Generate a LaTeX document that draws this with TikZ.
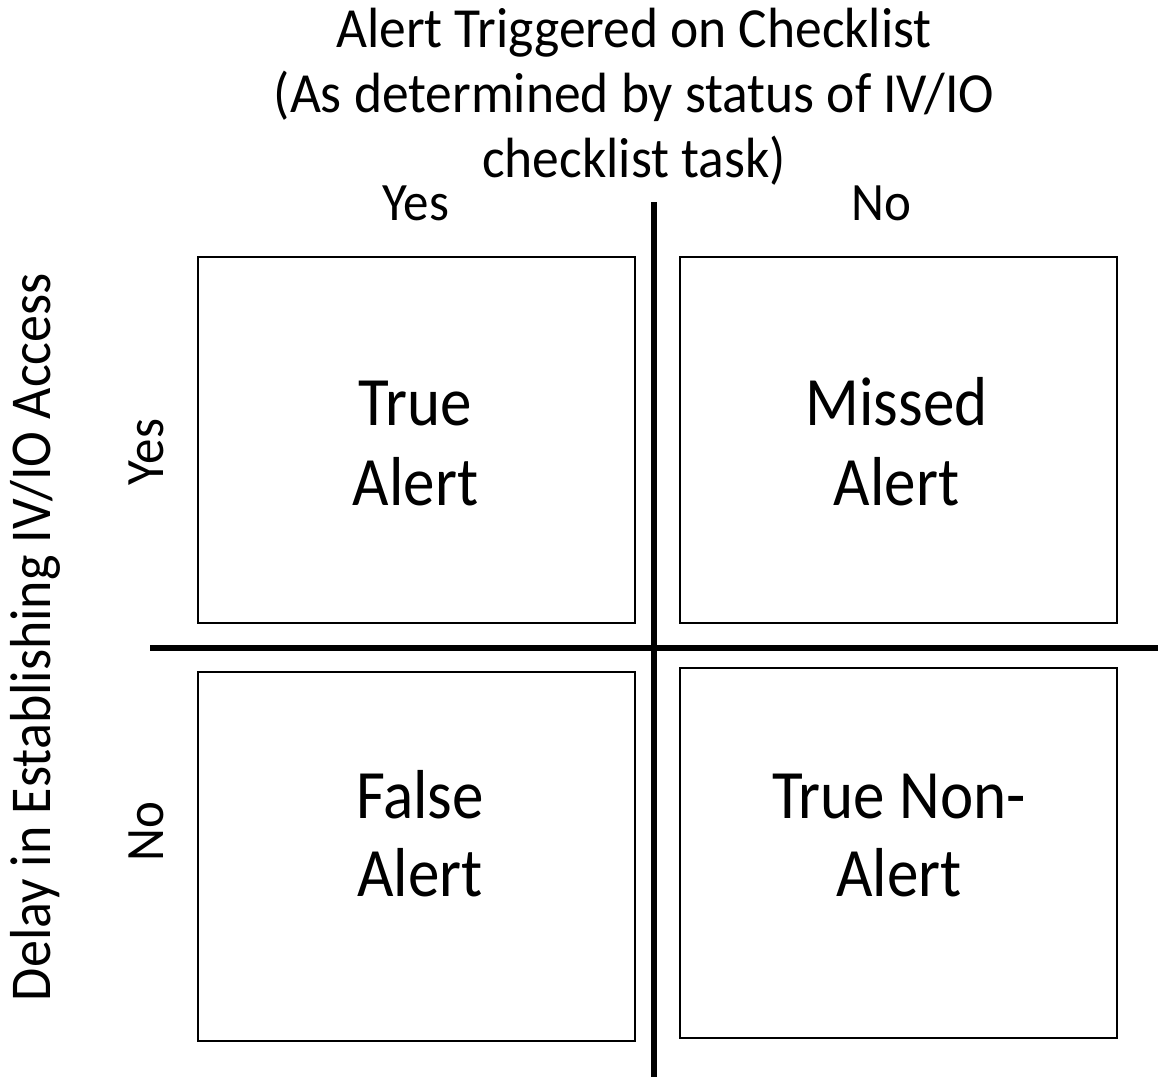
\documentclass[tikz,border=0pt]{standalone}
\usepackage{graphicx}
\usepackage{fontspec}
\setmainfont{Carlito}
% slightly taller glyphs than Carlito's own proportions
\newcommand{\tallline}[2][1.06]{\scalebox{1}[#1]{#2}}
\begin{document}
\begin{tikzpicture}[x=1pt,y=-1pt,
  cell/.style={draw, line width=2.2pt, inner sep=0pt, anchor=north west},
  axisline/.style={line width=5.5pt},
  celltext/.style={font=\fontsize{63}{80}\selectfont, align=center, inner sep=0pt, anchor=base},
  title/.style={font=\fontsize{53.5}{65}\selectfont, align=center, inner sep=0pt, anchor=base},
  head/.style={font=\fontsize{51}{60}\selectfont, inner sep=0pt, anchor=base}]
\useasboundingbox (0,0) rectangle (1158,1079);

% title over the columns (anchored at the baseline of its last line)
\node[title] (title) at (634,177) {\tallline{Alert Triggered on Checklist}\\\tallline{(As determined by status of IV/IO}\\\tallline{checklist task)}};

% column headings
\node[head] (colyes) at (416,220) {\tallline{Yes}};
\node[head] (colno) at (881,220) {\tallline{No}};

% row headings
\node[head, font=\fontsize{54}{60}\selectfont, rotate=90] (rowtitle) at (50,637) {\tallline[1.07]{Delay in Establishing IV/IO Access}};
\node[head, rotate=90] (rowyes) at (163,452) {\tallline{Yes}};
\node[head, rotate=90] (rowno) at (163,832) {\tallline{No}};

% dividing axes
\draw[axisline] (654,202) -- (654,1077);
\draw[axisline] (150,648) -- (1158,648);

% the four outcome cells
\node[cell, minimum width=437pt, minimum height=366pt] (tl) at (197,256) {};
\node[cell, minimum width=437pt, minimum height=366pt] (tr) at (679,256) {};
\node[cell, minimum width=437pt, minimum height=369pt] (bl) at (197,671) {};
\node[cell, minimum width=437pt, minimum height=370pt] (br) at (679,667) {};

% cell labels (anchored at the baseline of the second line)
\node[celltext] (tltext) at (415.5,505) {\tallline[1.1]{True}\\\tallline[1.1]{Alert}};
\node[celltext] (trtext) at (896.5,505) {\tallline[1.1]{Missed}\\\tallline[1.1]{Alert}};
\node[celltext, font=\fontsize{63}{78}\selectfont] (bltext) at (420,896) {\tallline[1.1]{False}\\\tallline[1.1]{Alert}};
\node[celltext, font=\fontsize{63}{78}\selectfont] (brtext) at (899,896) {\tallline[1.1]{True Non-}\\\tallline[1.1]{Alert}};
\end{tikzpicture}
\end{document}
